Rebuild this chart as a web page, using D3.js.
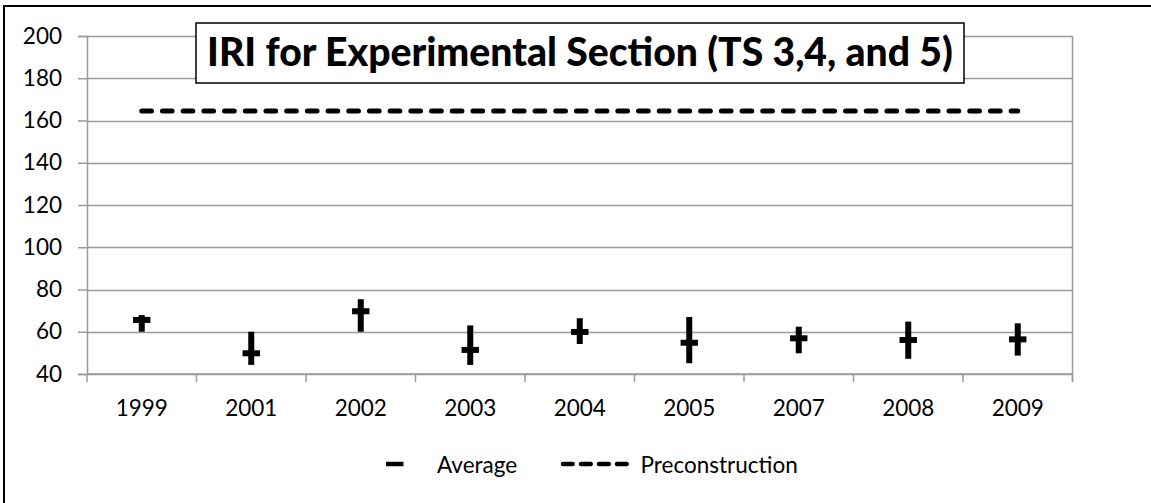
<!DOCTYPE html>
<html>
<head>
<meta charset="utf-8">
<script src="https://cdn.jsdelivr.net/npm/d3@7"></script>
<style>
  body { margin: 0; background: #fff; overflow: hidden; }
  svg { display: block; overflow: hidden; }
  text { font-family: Lato, "Open Sans", sans-serif; fill: #000; }
</style>
</head>
<body>
<div id="chart"></div>
<script>
// values
var years = ['1999', '2001', '2002', '2003', '2004', '2005', '2007', '2008', '2009'];
var high = [67.9, 60.0, 75.4, 63.0, 66.4, 67.0, 62.4, 64.8, 64.0];
var low = [60.0, 44.3, 60.0, 44.3, 54.2, 45.1, 49.8, 47.2, 48.7];
var average = [65.6, 49.8, 69.7, 51.4, 59.9, 54.8, 56.9, 56.1, 56.4];
var preconstruction = [164.5, 164.5, 164.5, 164.5, 164.5, 164.5, 164.5, 164.5, 164.5];
var yTicks = [40, 60, 80, 100, 120, 140, 160, 180, 200];
var titleText = 'IRI for Experimental Section (TS 3,4, and 5)';

var W = 1151, H = 503;
var svg = d3.select('#chart').append('svg')
    .attr('width', W)
    .attr('height', H);

// outer chart border (runs off right/bottom edge)
svg.append('rect')
    .attr('x', 4).attr('y', 6)
    .attr('width', 1300).attr('height', 600)
    .attr('fill', '#fff')
    .attr('stroke', '#000')
    .attr('stroke-width', 2);

var x = d3.scaleBand().domain(years).range([87, 1072.5]).padding(0);
var y = d3.scaleLinear().domain([40, 200]).range([374, 36]);
var grey = '#9a9a9a';

// gridlines
svg.append('g').selectAll('line')
    .data(yTicks)
    .enter().append('line')
    .attr('x1', 87).attr('x2', 1072.5)
    .attr('y1', function(d) { return Math.round(y(d)) + 0.5; })
    .attr('y2', function(d) { return Math.round(y(d)) + 0.5; })
    .attr('stroke', grey)
    .attr('stroke-width', 1.5);

// right border of plot area
svg.append('line')
    .attr('x1', 1072.5).attr('x2', 1072.5)
    .attr('y1', y(200)).attr('y2', y(40) + 8)
    .attr('stroke', grey).attr('stroke-width', 1.5);

// y axis
var yAxis = svg.append('g')
    .attr('transform', 'translate(87,0)')
    .call(d3.axisLeft(y).tickValues(yTicks).tickSize(9).tickPadding(16));
yAxis.selectAll('line').attr('stroke', grey).attr('stroke-width', 1.5);
yAxis.select('.domain').attr('stroke', grey).attr('stroke-width', 1.5);
yAxis.selectAll('text')
    .style('font-family', 'Lato, sans-serif')
    .style('font-size', '22.5px')
    .attr('fill', '#000');

// x axis: ticks between categories, labels centred
var xAxis = svg.append('g');
xAxis.append('line')
    .attr('x1', 87).attr('x2', 1072.5)
    .attr('y1', y(40)).attr('y2', y(40))
    .attr('stroke', grey).attr('stroke-width', 1.5);
var bounds = years.map(function(d) { return x(d); }).concat([x.range()[1]]);
xAxis.selectAll('line.tick')
    .data(bounds)
    .enter().append('line')
    .attr('class', 'tick')
    .attr('x1', function(d) { return d; })
    .attr('x2', function(d) { return d; })
    .attr('y1', y(40)).attr('y2', y(40) + 8)
    .attr('stroke', grey).attr('stroke-width', 1.5);
xAxis.selectAll('text')
    .data(years)
    .enter().append('text')
    .attr('x', function(d) { return x(d) + x.bandwidth() / 2; })
    .attr('y', 415.5)
    .attr('text-anchor', 'middle')
    .style('font-size', '22.5px')
    .text(function(d) { return d; });

// preconstruction dashed line
var line = d3.line()
    .x(function(d, i) { return x(years[i]) + x.bandwidth() / 2; })
    .y(function(d) { return y(d); });
svg.append('path')
    .datum(preconstruction)
    .attr('d', line)
    .attr('fill', 'none')
    .attr('stroke', '#000')
    .attr('stroke-width', 5)
    .attr('stroke-linecap', 'round')
    .attr('stroke-dasharray', '9.7,11');

// high-low lines
var marks = svg.append('g');
marks.selectAll('line.hl')
    .data(years)
    .enter().append('line')
    .attr('class', 'hl')
    .attr('x1', function(d) { return x(d) + x.bandwidth() / 2; })
    .attr('x2', function(d) { return x(d) + x.bandwidth() / 2; })
    .attr('y1', function(d, i) { return y(high[i]); })
    .attr('y2', function(d, i) { return y(low[i]); })
    .attr('stroke', '#000')
    .attr('stroke-width', 6);

// average dash markers
marks.selectAll('line.avg')
    .data(years)
    .enter().append('line')
    .attr('class', 'avg')
    .attr('x1', function(d) { return x(d) + x.bandwidth() / 2 - 8.7; })
    .attr('x2', function(d) { return x(d) + x.bandwidth() / 2 + 8.7; })
    .attr('y1', function(d, i) { return y(average[i]); })
    .attr('y2', function(d, i) { return y(average[i]); })
    .attr('stroke', '#000')
    .attr('stroke-width', 6);

// title with box
var title = svg.append('g');
title.append('rect')
    .attr('x', 196).attr('y', 23)
    .attr('width', 768).attr('height', 60)
    .attr('fill', '#fff')
    .attr('stroke', '#000')
    .attr('stroke-width', 1.5);
var tt = title.append('text')
    .attr('x', 580)
    .attr('y', 65.5)
    .attr('text-anchor', 'middle')
    .style('font-weight', '900')
    .style('font-size', '32px')
    .text(titleText);
var tw = tt.node().getComputedTextLength();
tt.style('font-size', (32 * 746 / tw) + 'px');

// legend
var legend = svg.append('g');
legend.append('line')
    .attr('x1', 386).attr('x2', 403.5)
    .attr('y1', 464).attr('y2', 464)
    .attr('stroke', '#000').attr('stroke-width', 4.5);
legend.append('text')
    .attr('x', 437).attr('y', 472.5)
    .style('font-size', '22.5px')
    .text('Average');
legend.append('line')
    .attr('x1', 563).attr('x2', 631.5)
    .attr('y1', 464).attr('y2', 464)
    .attr('stroke', '#000').attr('stroke-width', 4.5)
    .attr('stroke-linecap', 'round')
    .attr('stroke-dasharray', '9.7,8.3');
legend.append('text')
    .attr('x', 640.5).attr('y', 472.5)
    .style('font-size', '22.5px')
    .text('Preconstruction');
</script>
</body>
</html>
